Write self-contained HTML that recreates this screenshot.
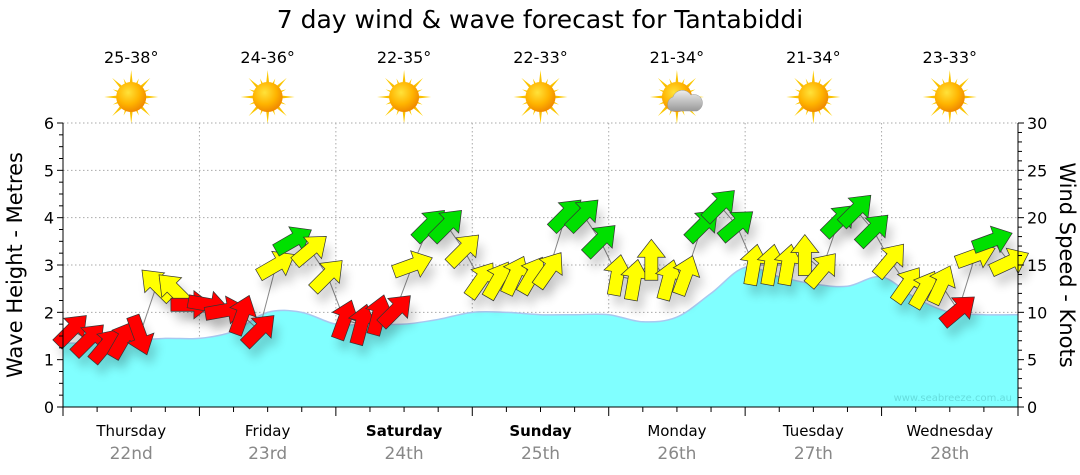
<!DOCTYPE html>
<html><head><meta charset="utf-8"><style>
html,body{margin:0;padding:0;background:#fff;width:1080px;height:475px;overflow:hidden}
svg text{font-family:"DejaVu Sans","Liberation Sans",sans-serif}
</style></head><body>
<svg id="chart" width="1080" height="475" viewBox="0 0 1080 475" xmlns="http://www.w3.org/2000/svg">
<defs>
<radialGradient id="sunG" cx="40%" cy="35%" r="65%"><stop offset="0" stop-color="#ffe23a"/><stop offset="0.6" stop-color="#ffb400"/><stop offset="1" stop-color="#f08a00"/></radialGradient>
<linearGradient id="rayG" x1="0" y1="0" x2="0" y2="1"><stop offset="0" stop-color="#ffd200"/><stop offset="1" stop-color="#f0a000"/></linearGradient>
<linearGradient id="cloudG" x1="0" y1="0" x2="0" y2="1"><stop offset="0" stop-color="#eee"/><stop offset="1" stop-color="#999"/></linearGradient>
<filter id="sh" x="-50%" y="-50%" width="200%" height="200%"><feGaussianBlur stdDeviation="5"/></filter>
</defs>
<text x="540" y="28" text-anchor="middle" font-size="25" fill="#000">7 day wind &amp; wave forecast for Tantabiddi</text>
<g id="weather"></g>
<g id="grid"></g>
<g id="wave"></g>
<g id="wind"></g>
<g id="axes"></g>
<text transform="translate(22,265) rotate(-90)" text-anchor="middle" font-size="21" fill="#000">Wave Height - Metres</text>
<text transform="translate(1060,265) rotate(90)" text-anchor="middle" font-size="21" fill="#000">Wind Speed - Knots</text>
<text x="1012" y="401" text-anchor="end" font-size="10" fill="#66dddd">www.seabreeze.com.au</text>
</svg>
<script>
const days=["Thursday","Friday","Saturday","Sunday","Monday","Tuesday","Wednesday"];
const dates=["22nd","23rd","24th","25th","26th","27th","28th"];
const temps=["25-38°","24-36°","22-35°","22-33°","21-34°","21-34°","23-33°"];
const cloudy=[0,0,0,0,1,0,0];
const waveHeights=[1.35,1.35,1.4,1.45, 1.45,1.6,2.0,2.0, 1.75,1.75,1.75,1.85, 2.0,2.0,1.95,1.95, 1.95,1.8,1.9,2.4, 2.95,2.75,2.6,2.55, 2.75,2.3,2.0,1.95, 1.95];
const windSpeeds=[8.1,7.1,6.5,7.1,7.6,12.9,12.4,10.8, 10.8,10.2,9.7,8.1,15,17.6,16.6,13.9, 9.2,8.7,9.7,10.2,15,19.2,19.2,16.6, 13.4,13.4,13.9,13.9,14.5,20.3,20.3,17.6, 13.9,13.4,15.5,13.4,13.9,19.2,21.3,19.2, 15,15,15,16,14.5,19.7,20.8,18.7, 15.5,12.9,12.4,12.9,10.2,16,17.6,15.3];
const windDirs=[45,45,40,30,160,315,315,90, 100,80,20,45,60,60,50,45, 20,15,15,45,70,45,45,45, 35,30,25,30,35,45,45,45, 10,10,0,15,20,45,45,50, 10,10,10,0,40,45,45,45, 40,35,30,25,50,70,70,65];
const waveTicks=[0,1,2,3,4,5,6];
const windTicks=[0,5,10,15,20,25,30];

const NS="http://www.w3.org/2000/svg";
const X0=63,X1=1018,Y0=407,Y1=123,DW=(X1-X0)/7;
const xDay=d=>X0+d*DW;
const yWave=v=>Y0-(v/6)*(Y0-Y1);
const yWind=v=>Y0-(v/30)*(Y0-Y1);
function mk(tag,attrs,parent){const e=document.createElementNS(NS,tag);for(const k in attrs)e.setAttribute(k,attrs[k]);parent.appendChild(e);return e;}
const G=id=>document.getElementById(id);

days.forEach((d,i)=>{
  const cx=xDay(i+0.5);
  const t=mk('text',{x:cx,y:63,'text-anchor':'middle','font-size':16,fill:'#000'},G('weather'));
  
  
  t.textContent=temps[i];
  const g=mk('g',{transform:`translate(${cx},97)`},G('weather'));
  
  
  for(let k=0;k<16;k++){const a=k*22.5,L=k%2?20:27;
    mk('polygon',{points:`-3,0 3,0 0,-${L}`,fill:'url(#rayG)',transform:`rotate(${a})`},g);}
  mk('circle',{cx:0,cy:0,r:15,fill:'url(#sunG)'},g);
  if(cloudy[i]){mk('path',{d:'M-6,14 a8,8 0 0 1 2,-14 a10,10 0 0 1 18,-2 a8,8 0 0 1 6,16 z',fill:'url(#cloudG)',stroke:'#999','stroke-width':0.5},g);}
});

waveTicks.slice(1).forEach(v=>{const l=mk('line',{x1:X0,x2:X1,y1:yWave(v),y2:yWave(v),stroke:'#aaa','stroke-dasharray':'1.5,2.5','stroke-width':1},G('grid'));
  });
for(let d=1;d<7;d++){const l=mk('line',{x1:xDay(d),x2:xDay(d),y1:Y1,y2:Y0,stroke:'#aaa','stroke-dasharray':'1.5,2.5'},G('grid'));
  }

const pts=waveHeights.map((v,i)=>[X0+i*(X1-X0)/(waveHeights.length-1),yWave(v)]);
let d=`M${pts[0][0]},${pts[0][1]}`;
for(let i=0;i<pts.length-1;i++){const p0=pts[Math.max(0,i-1)],p1=pts[i],p2=pts[i+1],p3=pts[Math.min(pts.length-1,i+2)];
  d+=` C${p1[0]+(p2[0]-p0[0])/6},${p1[1]+(p2[1]-p0[1])/6} ${p2[0]-(p3[0]-p1[0])/6},${p2[1]-(p3[1]-p1[1])/6} ${p2[0]},${p2[1]}`;}
const area=mk('path',{d:d+` L${X1},${Y0} L${X0},${Y0} Z`,fill:'#80ffff'},G('wave'));


mk('path',{d:d,fill:'none',stroke:'#a8c8f0','stroke-width':1.5},G('wave'));

const wpts=windSpeeds.map((v,i)=>[X0+(i+0.5)*DW/8,yWind(v)]);
const wl=mk('polyline',{points:wpts.map(p=>p.join(',')).join(' '),fill:'none',stroke:'#888','stroke-width':1},G('wind'));


const shp='-20,-6.5 3,-6.5 3,-14 21,0 3,14 3,6.5 -20,6.5';
windSpeeds.forEach((v,i)=>{const [x,y]=wpts[i];const a=windDirs[i]-90;
  mk('polygon',{points:shp,fill:'#000',opacity:0.18,filter:'url(#sh)',transform:`translate(${x+5},${y+10}) rotate(${a})`},G('wind'));});
windSpeeds.forEach((v,i)=>{const [x,y]=wpts[i];const a=windDirs[i]-90;
  const col=v>=17?'#00e000':(v>=12?'#ffff00':'#ff0000');
  const p=mk('polygon',{points:shp,fill:col,stroke:'#333','stroke-width':0.7,transform:`translate(${x},${y}) rotate(${a})`},G('wind'));
  
  });

const ax=G('axes');
mk('line',{x1:X0,x2:X0,y1:Y1,y2:Y0,stroke:'#000'},ax);
mk('line',{x1:X1,x2:X1,y1:Y1,y2:Y0,stroke:'#000'},ax);
mk('line',{x1:X0,x2:X1,y1:Y0,y2:Y0,stroke:'#000'},ax);
for(let v=0;v<=6.001;v+=0.25){const maj=Math.abs(v-Math.round(v))<0.01;mk('line',{x1:X0-(maj?6:4),x2:X0,y1:yWave(v),y2:yWave(v),stroke:'#000'},ax);}
waveTicks.forEach(v=>{const t=mk('text',{x:X0-9,y:yWave(v)+6,'text-anchor':'end','font-size':16,fill:'#000'},ax);
  t.textContent=v;});
for(let v=0;v<=30;v++){const maj=v%5==0;mk('line',{x1:X1,x2:X1+(maj?6:4),y1:yWind(v),y2:yWind(v),stroke:'#000'},ax);}
windTicks.forEach(v=>{const t=mk('text',{x:X1+9,y:yWind(v)+6,'text-anchor':'start','font-size':16,fill:'#000'},ax);
  t.textContent=v;});
for(let k=0;k<=28;k++){const maj=k%4==0;const x=X0+k*DW/4;mk('line',{x1:x,x2:x,y1:Y0,y2:Y0+(maj?9:5),stroke:'#000'},ax);}
days.forEach((dd,i)=>{const cx=xDay(i+0.5);const bold=(i==2||i==3);
  const t=mk('text',{x:cx,y:436,'text-anchor':'middle','font-size':15,fill:'#000','font-weight':bold?'bold':'normal'},ax);
  t.textContent=dd;
  const t2=mk('text',{x:cx,y:459,'text-anchor':'middle','font-size':17,fill:'#888'},ax);
  t2.textContent=dates[i];});
</script>
</body></html>
